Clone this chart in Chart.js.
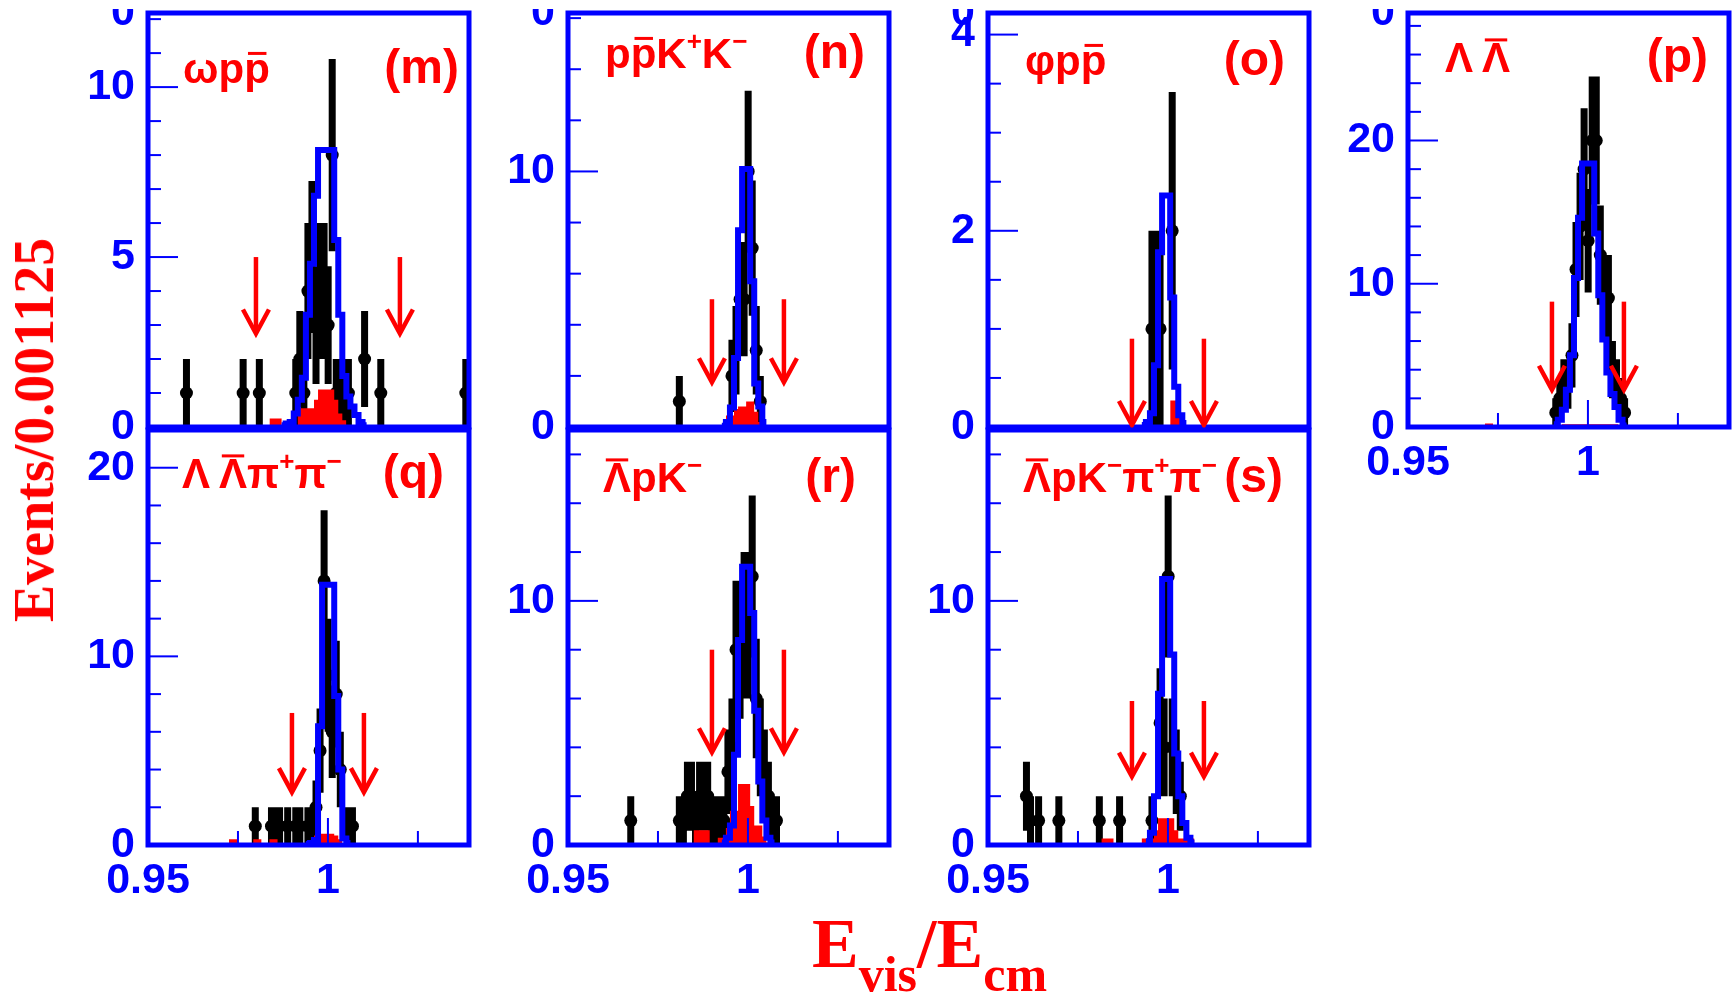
<!DOCTYPE html>
<html lang="en">
<head>
<meta charset="UTF-8">
<title>Evis/Ecm</title>
<script src="https://cdn.jsdelivr.net/npm/chart.js"></script>
<style>
  body { margin: 0; background: #fff; width: 1733px; height: 995px; overflow: hidden; position: relative; }
  canvas { position: absolute; }
  .ytitle {
    position: absolute; left: 34px; top: 430px;
    transform: translate(-50%, -50%) rotate(-90deg);
    font: bold 56px "Liberation Serif", serif; color: #f00;
    white-space: nowrap; line-height: 1;
  }
  .xtitle {
    position: absolute; left: 812px; top: 909px;
    font: bold 70px "Liberation Serif", serif; color: #f00;
    white-space: nowrap; line-height: 1;
  }
  .xtitle span { font-size: 50px; position: relative; top: 24px; }
</style>
</head>
<body>
<div id="wrap"></div>
<div class="ytitle">Events/0.001125</div>
<div class="xtitle">E<span>vis</span>/E<span>cm</span></div>
<script>
// histogram binning: 0.001125 wide bins starting at 0.95
const binWidth = 0.001125;
const xMin = 0.95;
const xMax = 1.0392;
const xTicks = [0.95, 0.975, 1.0, 1.025];
const xTickLabels = ['0.95', '', '1', ''];

// (m) omega p pbar
const mBins = [9, 23, 27, 36, 37, 38, 39, 40, 41, 42, 43, 44, 45, 46, 47, 48, 49, 53, 57, 78];
const mCounts = [1, 1, 1, 1, 2, 1, 4, 5, 3, 4, 4, 3, 8, 1, 1, 1, 1, 2, 1, 1];
const mSigStart = 33;
const mSig = [0.05, 0.1, 0.15, 0.4, 0.8, 1.45, 3.3, 4.8, 6.8, 8.15, 8.15, 8.15, 8.15, 5.5, 3.3, 1.5, 0.9, 0.6, 0.35, 0.15, 0.05];
const mBkgStart = 30;
const mBkg = [0.25, 0.25, 0.25, 0, 0, 0, 0, 0.55, 0.55, 0.55, 0.55, 0.8, 1.1, 1.1, 1.1, 1.1, 0.8, 0.4, 0.2];
const mCuts = [0.98, 1.02];
const mArrow = [5, 2.75];

// (n) p pbar K+ K-
const nBins = [27, 40, 41, 42, 43, 44, 45, 46, 47];
const nCounts = [1, 2, 3, 5, 5, 10, 7, 3, 1];
const nSigStart = 38;
const nSig = [0.05, 0.2, 0.76, 2.7, 7.7, 10.1, 10.1, 5.7, 1.7, 0.8, 0.2];
const nBkgStart = 39;
const nBkg = [0.45, 0.45, 0.7, 0.8, 0.8, 1.0, 1.0, 0.6, 0.2];
const nCuts = [0.99, 1.01];
const nArrow = [5, 1.75];

// (o) phi p pbar
const oBins = [40, 41, 42, 45];
const oCounts = [1, 1, 1, 2];
const oSigStart = 38;
const oSig = [0.02, 0.05, 0.14, 0.63, 1.78, 2.36, 2.36, 1.32, 0.41, 0.12, 0.04];
const oBkgStart = 45;
const oBkg = [0.27, 0.27, 0.1];
const oCuts = [0.99, 1.01];
const oArrow = [0.9, 0.02];

// (p) Lambda Lambdabar
const pBins = [36, 37, 38, 39, 40, 41, 42, 43, 44, 45, 46, 47, 48, 49, 50, 51, 52, 53];
const pCounts = [1, 2, 3, 3, 5, 11, 14, 18, 13, 20, 20, 12, 9, 9, 4, 3, 2, 1];
const pSigStart = 36;
const pSig = [0.2, 0.5, 1.2, 2.6, 5.0, 10.4, 14.6, 18.4, 18.4, 18.4, 13.5, 9.2, 6.1, 3.8, 2.3, 1.4, 0.5, 0.1];
const pBkgStart = 19;
const pBkg = [0.25, 0.25, 0, 0, 0, 0, 0, 0, 0, 0, 0, 0, 0, 0, 0, 0, 0, 0, 0,
              0.2, 0.2, 0.2, 0.2, 0.2, 0.2, 0.2, 0.2, 0.2, 0.2, 0.2, 0.2, 0.2, 0.2];
const pCuts = [0.99, 1.01];
const pArrow = [8.75, 2.6];

// (q) Lambda Lambdabar pi+ pi-
const qBins = [26, 30, 31, 32, 34, 36, 37, 39, 40, 41, 42, 43, 44, 45, 46, 47, 49, 50];
const qCounts = [1, 1, 1, 1, 1, 1, 1, 1, 1, 2, 5, 14, 9, 6, 8, 4, 1, 1];
const qSigStart = 39;
const qSig = [0.05, 0.1, 0.26, 6.3, 13.8, 13.8, 13.8, 7.9, 4.0, 0.35, 0.1];
const qBkgStart = 20;
const qBkg = [0.3, 0.3, 0, 0, 0, 0, 0.3, 0.3, 0, 0, 0.3, 0.3, 0, 0, 0, 0, 0, 0, 0, 0, 0,
              0.5, 0.6, 0.6, 0.6, 0.6, 0.5, 0.3];
const qCuts = [0.99, 1.01];
const qArrow = [7, 2.8];

// (r) Lambdabar p K-
const rBins = [15, 27, 28, 29, 30, 31, 32, 33, 34, 35, 36, 37, 38, 39, 40, 41, 42, 43, 44, 45, 46, 47, 48, 49, 50, 51];
const rCounts = [1, 1, 1, 2, 2, 1, 2, 2, 2, 1, 1, 1, 1, 3, 4, 8, 8, 9, 9, 11, 6, 4, 3, 2, 1, 1];
const rSigStart = 38;
const rSig = [0.1, 0.3, 0.8, 3.7, 8.4, 11.4, 11.4, 9.5, 5.5, 2.6, 1.0, 0.3, 0.1];
const rBkgStart = 31;
const rBkg = [0.6, 0.6, 0.6, 0.6, 0, 0, 0.3, 0.3, 0.7, 1.4, 1.4, 2.5, 2.5, 2.5, 1.6, 0.8, 0.8, 0.35, 0.1];
const rCuts = [0.99, 1.01];
const rArrow = [8, 3.8];

// (s) Lambdabar p K- pi+ pi-
const sBins = [9, 10, 12, 17, 27, 32, 40, 42, 43, 44, 45, 46, 47];
const sCounts = [2, 1, 1, 1, 1, 1, 1, 5, 4, 11, 4, 3, 2];
const sSigStart = 39;
const sSig = [0.15, 0.5, 2.0, 6.2, 10.9, 10.9, 7.8, 3.75, 2.0, 0.9, 0.3, 0.1];
const sBkgStart = 28;
const sBkg = [0.27, 0.27, 0.27, 0, 0, 0, 0, 0, 0, 0, 0.27, 0.27, 0.27, 0.6,
              1.1, 1.1, 1.1, 1.1, 0.6, 0.27, 0.27, 0.27, 0.27];
const sCuts = [0.99, 1.01];
const sArrow = [5.9, 2.8];

const BLUE = '#0000ff';
const RED = '#ff0000';
const TICK_FONT = 'bold 43px "Liberation Sans", Arial, sans-serif';

const edge = i => xMin + i * binWidth;
const center = i => xMin + (i + 0.5) * binWidth;

function stepData(start, vals) {
  const pts = vals.map((v, k) => ({ x: edge(start + k), y: v }));
  pts.push({ x: edge(start + vals.length), y: vals[vals.length - 1] });
  return pts;
}
function errData(bins, counts) {
  const pts = [];
  bins.forEach((b, k) => {
    const n = counts[k], e = Math.sqrt(n);
    pts.push({ x: center(b), y: Math.max(0, n - e) }, { x: center(b), y: n + e }, { x: center(b), y: null });
  });
  return pts;
}
function tickRange(max, step) {
  const out = [];
  for (let k = 0; k * step <= max + 1e-9; k++) out.push(+(k * step).toFixed(4));
  return out;
}

// title pieces: t = text, sup = superscript, bar = overline
const P = { t: 'p' }, PB = { t: 'p', bar: 'low' }, K = { t: 'K' };
const LAM = { t: 'Λ', gap: 9 }, LAMB = { t: 'Λ', bar: 'high' };
const PI = { t: 'π' }, SP = { t: '+', sup: true }, SM = { t: '−', sup: true };

const panels = [
  { id: 'm', left: 148, top: 13, h: 414, bins: mBins, counts: mCounts, sigStart: mSigStart, sig: mSig,
    bkgStart: mBkgStart, bkg: mBkg, cuts: mCuts, arrow: mArrow, yMax: 12.18, yMinor: 1, yMajor: 5,
    xLabels: false, topZero: true, title: [{ t: 'ω' }, P, PB], tag: '(m)', tx: 35, ty: 70, tagR: 10 },
  { id: 'n', left: 568, top: 13, h: 414, bins: nBins, counts: nCounts, sigStart: nSigStart, sig: nSig,
    bkgStart: nBkgStart, bkg: nBkg, cuts: nCuts, arrow: nArrow, yMax: 16.2, yMinor: 2, yMajor: 10,
    xLabels: false, topZero: true, title: [P, PB, K, SP, K, SM], tag: '(n)', tx: 37, ty: 55, tagR: 24 },
  { id: 'o', left: 988, top: 13, h: 414, bins: oBins, counts: oCounts, sigStart: oSigStart, sig: oSig,
    bkgStart: oBkgStart, bkg: oBkg, cuts: oCuts, arrow: oArrow, yMax: 4.22, yMinor: 0.5, yMajor: 2,
    xLabels: false, topZero: true, title: [{ t: 'φ' }, P, PB], tag: '(o)', tx: 37, ty: 62, tagR: 24 },
  { id: 'p', left: 1408, top: 13, h: 414, bins: pBins, counts: pCounts, sigStart: pSigStart, sig: pSig,
    bkgStart: pBkgStart, bkg: pBkg, cuts: pCuts, arrow: pArrow, yMax: 28.9, yMinor: 2, yMajor: 10,
    xLabels: true, topZero: true, title: [LAM, LAMB], tag: '(p)', tx: 37, ty: 59, tagR: 21 },
  { id: 'q', left: 148, top: 430, h: 415, bins: qBins, counts: qCounts, sigStart: qSigStart, sig: qSig,
    bkgStart: qBkgStart, bkg: qBkg, cuts: qCuts, arrow: qArrow, yMax: 22.0, yMinor: 2, yMajor: 10,
    xLabels: true, topZero: false, title: [LAM, LAMB, PI, SP, PI, SM], tag: '(q)', tx: 34, ty: 58, tagR: 25 },
  { id: 'r', left: 568, top: 430, h: 415, bins: rBins, counts: rCounts, sigStart: rSigStart, sig: rSig,
    bkgStart: rBkgStart, bkg: rBkg, cuts: rCuts, arrow: rArrow, yMax: 17.0, yMinor: 2, yMajor: 10,
    xLabels: true, topZero: false, title: [LAMB, P, K, SM], tag: '(r)', tx: 35, ty: 62, tagR: 33 },
  { id: 's', left: 988, top: 430, h: 415, bins: sBins, counts: sCounts, sigStart: sSigStart, sig: sSig,
    bkgStart: sBkgStart, bkg: sBkg, cuts: sCuts, arrow: sArrow, yMax: 17.0, yMinor: 2, yMajor: 10,
    xLabels: true, topZero: false, title: [LAMB, P, K, SM, PI, SP, PI, SM], tag: '(s)', tx: 35, ty: 62, tagR: 26 }
];

const W = 321, PADL = 110, PADT = 25, PADR = 10, PADB = 65;

function drawTitle(ctx, segs, x, y, size) {
  let cx = x;
  ctx.textAlign = 'left';
  ctx.textBaseline = 'alphabetic';
  segs.forEach(s => {
    const fs = s.sup ? size * 0.62 : size;
    ctx.font = `bold ${fs}px "Liberation Sans", "DejaVu Sans", sans-serif`;
    const dy = s.sup ? -size * 0.42 : 0;
    ctx.fillText(s.t, cx, y + dy);
    const w = ctx.measureText(s.t).width;
    if (s.bar === 'low') ctx.fillRect(cx + w * 0.15, y - size * 0.74, w * 0.72, 3);
    if (s.bar === 'high') ctx.fillRect(cx + w * 0.1, y - size * 0.8, w * 0.8, 3);
    cx += w + (s.gap || 0);
  });
  return cx;
}

function panelPlugin(cfg) {
  return {
    id: 'panel_' + cfg.id,
    afterDatasetsDraw(chart) {
      const { ctx, chartArea: a } = chart;
      const x = chart.scales.x, y = chart.scales.y;
      ctx.save();
      ctx.lineCap = 'butt';
      // inner tick marks
      ctx.strokeStyle = BLUE;
      ctx.lineWidth = 2;
      y.ticks.forEach(t => {
        const py = y.getPixelForValue(t.value);
        const major = Math.abs(t.value / cfg.yMajor - Math.round(t.value / cfg.yMajor)) < 1e-6;
        ctx.beginPath();
        ctx.moveTo(a.left, py);
        ctx.lineTo(a.left + (major ? 30 : 13), py);
        ctx.stroke();
      });
      if (cfg.xLabels) {
        x.ticks.forEach(t => {
          const px = x.getPixelForValue(t.value);
          const major = Math.abs(t.value - 1) < 1e-9;
          ctx.beginPath();
          ctx.moveTo(px, a.bottom);
          ctx.lineTo(px, a.bottom - (major ? 27 : 14));
          ctx.stroke();
        });
      }
      // frame
      ctx.lineWidth = 5;
      ctx.strokeRect(a.left, a.top, a.right - a.left, a.bottom - a.top);
      // selection arrows
      ctx.strokeStyle = RED;
      ctx.lineWidth = 4.5;
      cfg.cuts.forEach(c => {
        const px = x.getPixelForValue(c);
        const p0 = y.getPixelForValue(cfg.arrow[0]);
        const p1 = y.getPixelForValue(cfg.arrow[1]);
        ctx.beginPath();
        ctx.moveTo(px, p0);
        ctx.lineTo(px, p1 - 3);
        ctx.stroke();
        ctx.beginPath();
        ctx.moveTo(px - 13, p1 - 24);
        ctx.lineTo(px, p1);
        ctx.lineTo(px + 13, p1 - 24);
        ctx.stroke();
      });
      // panel title and tag
      ctx.fillStyle = RED;
      const end = drawTitle(ctx, cfg.title, a.left + cfg.tx, a.top + cfg.ty, 42);
      ctx.font = 'bold 48px "Liberation Sans", sans-serif';
      ctx.textAlign = 'right';
      const tagX = Math.max(a.right - cfg.tagR, end + ctx.measureText(cfg.tag).width);
      ctx.fillText(cfg.tag, tagX, a.top + cfg.ty);
      // zero label of the cropped row above, only its lower part shows
      if (cfg.topZero) {
        ctx.save();
        ctx.beginPath();
        ctx.rect(0, a.top - 4, a.left, 60);
        ctx.clip();
        ctx.fillStyle = BLUE;
        ctx.font = TICK_FONT;
        ctx.textAlign = 'right';
        ctx.textBaseline = 'middle';
        ctx.fillText('0', a.left - 13, a.top);
        ctx.restore();
      }
      ctx.restore();
    }
  };
}

const wrap = document.getElementById('wrap');

panels.forEach(cfg => {
  const cv = document.createElement('canvas');
  cv.width = W + PADL + PADR;
  cv.height = cfg.h + PADT + PADB;
  cv.style.left = (cfg.left - PADL) + 'px';
  cv.style.top = (cfg.top - PADT) + 'px';
  wrap.appendChild(cv);

  const yTickVals = tickRange(cfg.yMax, cfg.yMinor);
  const isMajorY = v => Math.abs(v / cfg.yMajor - Math.round(v / cfg.yMajor)) < 1e-6;

  new Chart(cv.getContext('2d'), {
    type: 'line',
    data: {
      datasets: [
        { label: 'signal MC', data: stepData(cfg.sigStart, cfg.sig), stepped: true,
          borderColor: BLUE, borderWidth: 6, pointRadius: 0, fill: false, order: 0 },
        { label: 'background', data: stepData(cfg.bkgStart, cfg.bkg), stepped: true,
          borderColor: 'rgba(0,0,0,0)', borderWidth: 0, backgroundColor: RED,
          pointRadius: 0, fill: 'origin', order: 1 },
        { label: 'data', data: cfg.bins.map((b, k) => ({ x: center(b), y: cfg.counts[k] })),
          showLine: false, pointRadius: 6.5, pointBackgroundColor: '#000', pointBorderWidth: 0, order: 2 },
        { label: 'errors', data: errData(cfg.bins, cfg.counts), spanGaps: false,
          borderColor: '#000', borderWidth: 7, borderCapStyle: 'butt', pointRadius: 0, fill: false, order: 3 }
      ]
    },
    options: {
      responsive: false,
      devicePixelRatio: 1,
      animation: false,
      layout: { autoPadding: false, padding: { top: PADT, right: PADR, bottom: 0, left: 0 } },
      plugins: { legend: { display: false }, tooltip: { enabled: false } },
      scales: {
        x: {
          type: 'linear', min: xMin, max: xMax,
          afterBuildTicks: s => { s.ticks = xTicks.map(v => ({ value: v })); },
          afterFit: s => { s.height = PADB; s.paddingLeft = 0; s.paddingRight = 0; },
          grid: { display: false, drawTicks: false },
          border: { display: false },
          ticks: {
            display: cfg.xLabels, color: BLUE, padding: 10, autoSkip: false, maxRotation: 0,
            font: { family: '"Liberation Sans", Arial, sans-serif', size: 43, weight: 'bold' },
            callback: v => { const k = xTicks.findIndex(t => Math.abs(t - v) < 1e-9); return k >= 0 ? xTickLabels[k] : ''; }
          }
        },
        y: {
          type: 'linear', min: 0, max: cfg.yMax,
          afterBuildTicks: s => { s.ticks = yTickVals.map(v => ({ value: v })); },
          afterFit: s => { s.width = PADL; s.paddingTop = 0; s.paddingBottom = 0; },
          grid: { display: false, drawTicks: false },
          border: { display: false },
          ticks: {
            color: BLUE, padding: 13, autoSkip: false,
            font: { family: '"Liberation Sans", Arial, sans-serif', size: 43, weight: 'bold' },
            callback: v => isMajorY(v) ? String(Math.round(v)) : ''
          }
        }
      }
    },
    plugins: [panelPlugin(cfg)]
  });
});
</script>
</body>
</html>
